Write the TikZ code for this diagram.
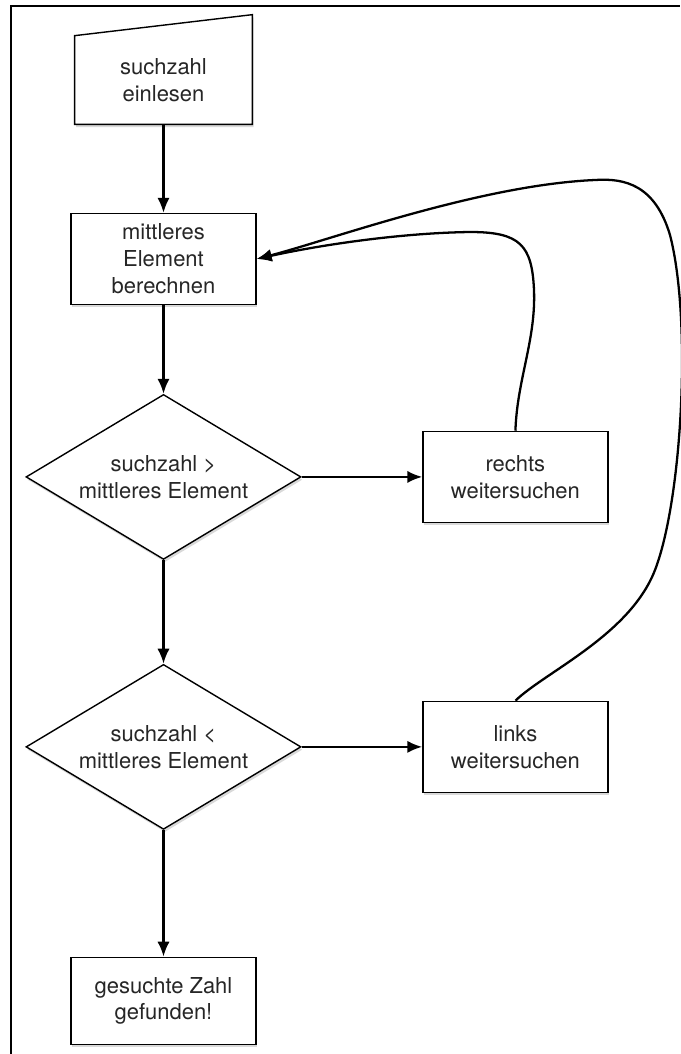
\documentclass[tikz,border=0pt]{standalone}
\usepackage{fontspec}
\setmainfont{TeX Gyre Heros}
\usetikzlibrary{shapes,shapes.geometric,arrows.meta,positioning,shadows,backgrounds}
\tikzset{
softshadow/.style = {drop shadow={shadow xshift=0.8pt, shadow yshift=-1.6pt, opacity=0.3}},
block/.style = {draw, fill=white, rectangle, align = center, line width=0.8pt, minimum width=3.7cm, minimum height=1.82cm, softshadow},
inputbox/.style = {rectangle, align = center, minimum width=3.54cm, minimum height=1.76cm},
condition/.style = {draw, fill=white, diamond, align = center, line width=0.8pt, aspect=1.67, inner sep=0pt, minimum width=5.5cm, minimum height=3.3cm, softshadow},
flow/.style = {->, line width=1.3pt},
}
\begin{document}
\begin{tikzpicture}[x=0.02cm, y=-0.02cm, >={Latex[length=8.5pt,width=7pt]}, font=\fontsize{12.5}{15.3}\selectfont, text=black!85]
    \useasboundingbox (0,0) rectangle (680,1054);
    \draw [line width=0.8pt] (11,1054) -- (11,6) -- (680,6);

    \node [inputbox, name=read] at (163.5,80) {suchzahl\\einlesen};
    \begin{scope}[on background layer]
      \draw [fill=white, line width=0.8pt, softshadow] (read.south west) -- (read.north west)
        -- ([yshift=0.42cm]read.north east) -- (read.south east) -- cycle;
    \end{scope}

    \node [block, name=calc, below of = read, node distance = 3.58cm] {mittleres\\Element\\berechnen};

    \node [condition, name=test1, below of = calc, node distance = 4.36cm] {suchzahl >\\mittleres Element};
    \node [block, name=goright, right of = test1, node distance = 7.04cm] {rechts\\weitersuchen};

    \node [condition, name=test2, below of = test1, node distance = 5.4cm] {suchzahl <\\mittleres Element};
    \node [block, name=goleft, right of = test2, node distance = 7.04cm] {links\\weitersuchen};

    \node [block, name=found, below of = test2, node distance = 5.08cm, minimum height=1.74cm] {gesuchte Zahl\\gefunden!};

    \draw [flow] (read) -- (calc);
    \draw [flow] (calc) -- (test1);
    \draw [flow] (test1) -- (goright);
    \draw [flow] (test1) -- (test2);
    \draw [flow] (test2) -- (goleft);
    \draw [flow] (test2) -- (found);

    \draw [flow] (goright.north) .. controls (517,380) and (536,340) .. (534,290)
      .. controls (532,245) and (520,232) .. (470,232)
      .. controls (400,233) and (320,245) .. (calc.east);
    \draw [flow] (goleft.north) .. controls (545,672) and (630,635) .. (655,570)
      .. controls (682,500) and (692,320) .. (670,235)
      .. controls (655,185) and (625,178) .. (595,180)
      .. controls (480,185) and (330,240) .. (calc.east);
\end{tikzpicture}
\end{document}
